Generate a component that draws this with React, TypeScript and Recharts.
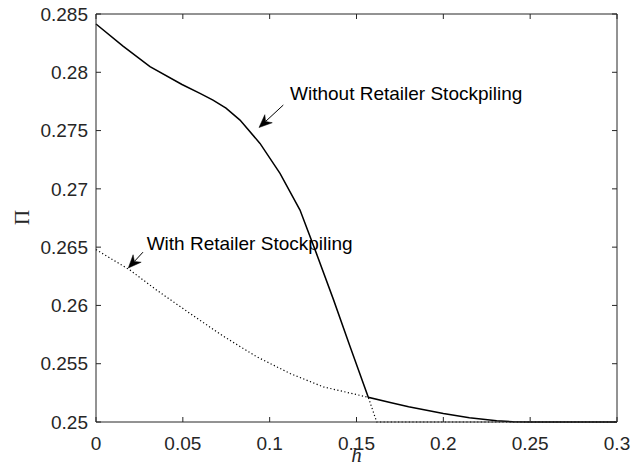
import React from 'react';
import { LineChart, Line, XAxis, YAxis, ReferenceLine, ReferenceDot } from 'recharts';

const xTicks = [0, 0.05, 0.1, 0.15, 0.2, 0.25, 0.3];
const xTickLabels = ['0', '0.05', '0.1', '0.15', '0.2', '0.25', '0.3'];
const yTicks = [0.25, 0.255, 0.26, 0.265, 0.27, 0.275, 0.28, 0.285];
const yTickLabels = ['0.25', '0.255', '0.26', '0.265', '0.27', '0.275', '0.28', '0.285'];
const xMin = 0;
const xMax = 0.3;
const yMin = 0.25;
const yMax = 0.285;

// Without Retailer Stockpiling (solid)
const withoutH = [0, 0.01555, 0.03109, 0.04952, 0.05988, 0.06737, 0.07486, 0.08292, 0.09443, 0.10595, 0.11747, 0.12708, 0.13664, 0.14623, 0.1568, 0.17, 0.18, 0.2, 0.215, 0.2307, 0.24, 0.25, 0.3];
const withoutPi = [0.28414, 0.28225, 0.28048, 0.27895, 0.27819, 0.27762, 0.27693, 0.2759, 0.2739, 0.27133, 0.26818, 0.2644, 0.26054, 0.2565, 0.25212, 0.25165, 0.2513, 0.25072, 0.25037, 0.2501, 0.25002, 0.25, 0.25];

// With Retailer Stockpiling (dotted)
const withH = [0, 0.01958, 0.03495, 0.05413, 0.0733, 0.09253, 0.11177, 0.13094, 0.1568, 0.16164, 0.3];
const withPi = [0.26479, 0.26303, 0.26131, 0.25931, 0.25736, 0.2556, 0.25416, 0.25301, 0.25212, 0.25, 0.25];

const withoutData = withoutH.map((h, i) => ({ h, v: withoutPi[i] }));
const withData = withH.map((h, i) => ({ h, v: withPi[i] }));

// chart layout
const W = 631;
const H = 473;
const M = { top: 14, right: 14, bottom: 0, left: 0 };
const Y_AXIS_W = 96;
const X_AXIS_H = 51;
const PLOT_TOP = M.top;
const PLOT_RIGHT = W - M.right;
const PLOT_LEFT = M.left + Y_AXIS_W;
const PLOT_BOTTOM = H - M.bottom - X_AXIS_H;
const X_TICK_GAP = 15; // label top below the axis line
const Y_TICK_GAP = 8; // label right edge left of the axis line

const SANS = '"Liberation Sans", Arial, Helvetica, sans-serif';
const SERIF = '"Liberation Serif", "Times New Roman", serif';
const AX = '#262626';
const TICK = 5;

const Arrow = (p: any) => {
  const { x1, y1, x2, y2 } = p;
  const dx = x2 - x1;
  const dy = y2 - y1;
  const L = Math.hypot(dx, dy) || 1;
  const ux = dx / L;
  const uy = dy / L;
  const px = -uy;
  const py = ux;
  const hl = 13;
  const hw = 5.5;
  const notch = 9;
  const bx = x2 - ux * hl;
  const by = y2 - uy * hl;
  const nx = x2 - ux * notch;
  const ny = y2 - uy * notch;
  const pts = [
    [x2, y2],
    [bx + px * hw, by + py * hw],
    [nx, ny],
    [bx - px * hw, by - py * hw],
  ]
    .map((q) => q.join(','))
    .join(' ');
  return (
    <g>
      <line x1={x1} y1={y1} x2={nx} y2={ny} stroke="#000" strokeWidth={1} />
      <polygon points={pts} fill="#000" stroke="#000" strokeWidth={0.5} />
    </g>
  );
};

// custom x tick: label + inward tick marks at bottom and top (+ top border on first tick)
const XTick = (props: any) => {
  const { x, y, payload, index } = props;
  const cx = payload && typeof payload.coordinate === 'number' ? payload.coordinate : x;
  const bottom = typeof y === 'number' ? y - X_TICK_GAP : PLOT_BOTTOM;
  const label = xTickLabels[xTicks.indexOf(payload.value)] ?? String(payload.value);
  return (
    <g>
      {index === 0 && (
        <line x1={cx} y1={PLOT_TOP} x2={PLOT_RIGHT} y2={PLOT_TOP} stroke={AX} strokeWidth={1} />
      )}
      <line x1={cx} x2={cx} y1={bottom} y2={bottom - TICK} stroke={AX} strokeWidth={1} />
      <line x1={cx} x2={cx} y1={PLOT_TOP} y2={PLOT_TOP + TICK} stroke={AX} strokeWidth={1} />
      <text x={x} y={y} dy="0.71em" textAnchor="middle" fontFamily={SANS} fontSize={19} fill={AX}>
        {label}
      </text>
    </g>
  );
};

// custom y tick: label + inward tick marks at left and right (+ right border on first tick)
const YTick = (props: any) => {
  const { x, y, payload, index } = props;
  const cy = payload && typeof payload.coordinate === 'number' ? payload.coordinate : y;
  const left = typeof x === 'number' ? x + Y_TICK_GAP : PLOT_LEFT;
  const label = yTickLabels[yTicks.indexOf(payload.value)] ?? String(payload.value);
  return (
    <g>
      {index === 0 && (
        <line x1={PLOT_RIGHT} y1={PLOT_TOP} x2={PLOT_RIGHT} y2={cy} stroke={AX} strokeWidth={1} />
      )}
      <line x1={left} x2={left + TICK} y1={cy} y2={cy} stroke={AX} strokeWidth={1} />
      <line x1={PLOT_RIGHT} x2={PLOT_RIGHT - TICK} y1={cy} y2={cy} stroke={AX} strokeWidth={1} />
      <text x={x} y={y} dy="0.355em" textAnchor="end" fontFamily={SANS} fontSize={19} fill={AX}>
        {label}
      </text>
    </g>
  );
};

const XTitle = (props: any) => {
  const vb = props.viewBox || {};
  return (
    <text
      x={vb.x + vb.width / 2}
      y={462}
      textAnchor="middle"
      fontFamily={SERIF}
      fontStyle="italic"
      fontSize={21}
      fill={AX}
    >
      h
    </text>
  );
};

const YTitle = () => (
  <text
    x={28.5}
    y={217.5}
    textAnchor="middle"
    transform="rotate(-90 28.5 217.5)"
    fontFamily={SERIF}
    fontSize={21}
    fill={AX}
  >
    Π
  </text>
);

const makeText = (txt: string) => (p: any) => (
  <text x={p.cx} y={p.cy} fontFamily={SANS} fontSize={19} fill="#000">
    {txt}
  </text>
);

export default function App() {
  return (
    <div style={{ position: 'absolute', left: 0, top: 0, width: W, height: H, background: '#fff' }}>
      <LineChart width={W} height={H} margin={M}>
        <XAxis
          xAxisId={0}
          type="number"
          dataKey="h"
          domain={[xMin, xMax]}
          ticks={xTicks}
          interval={0}
          height={X_AXIS_H}
          tickSize={-5}
          tickMargin={20}
          axisLine={{ stroke: AX, strokeWidth: 1 }}
          tickLine={false}
          tick={(p: any) => <XTick {...p} />}
          label={(props: any) => <XTitle {...props} />}
        />
        <YAxis
          yAxisId={0}
          type="number"
          domain={[yMin, yMax]}
          ticks={yTicks}
          interval={0}
          width={Y_AXIS_W}
          tickSize={-5}
          tickMargin={13}
          axisLine={{ stroke: AX, strokeWidth: 1 }}
          tickLine={false}
          tick={(p: any) => <YTick {...p} />}
          label={() => <YTitle />}
        />
        <Line
          data={withData}
          dataKey="v"
          type="linear"
          stroke="#000"
          strokeWidth={1.2}
          strokeDasharray="1.2 2.4"
          dot={false}
          activeDot={false}
          isAnimationActive={false}
        />
        <Line
          data={withoutData}
          dataKey="v"
          type="linear"
          stroke="#000"
          strokeWidth={1.5}
          dot={false}
          activeDot={false}
          isAnimationActive={false}
        />
        <ReferenceLine
          segment={[{ x: 0.10785, y: 0.27719 }, { x: 0.09386, y: 0.27526 }]}
          shape={Arrow}
        />
        <ReferenceLine
          segment={[{ x: 0.02706, y: 0.26457 }, { x: 0.0186, y: 0.26321 }]}
          shape={Arrow}
        />
        <ReferenceDot x={0.11171} y={0.27762} r={1} shape={makeText('Without Retailer Stockpiling')} />
        <ReferenceDot x={0.02919} y={0.26479} r={1} shape={makeText('With Retailer Stockpiling')} />
      </LineChart>
    </div>
  );
}
